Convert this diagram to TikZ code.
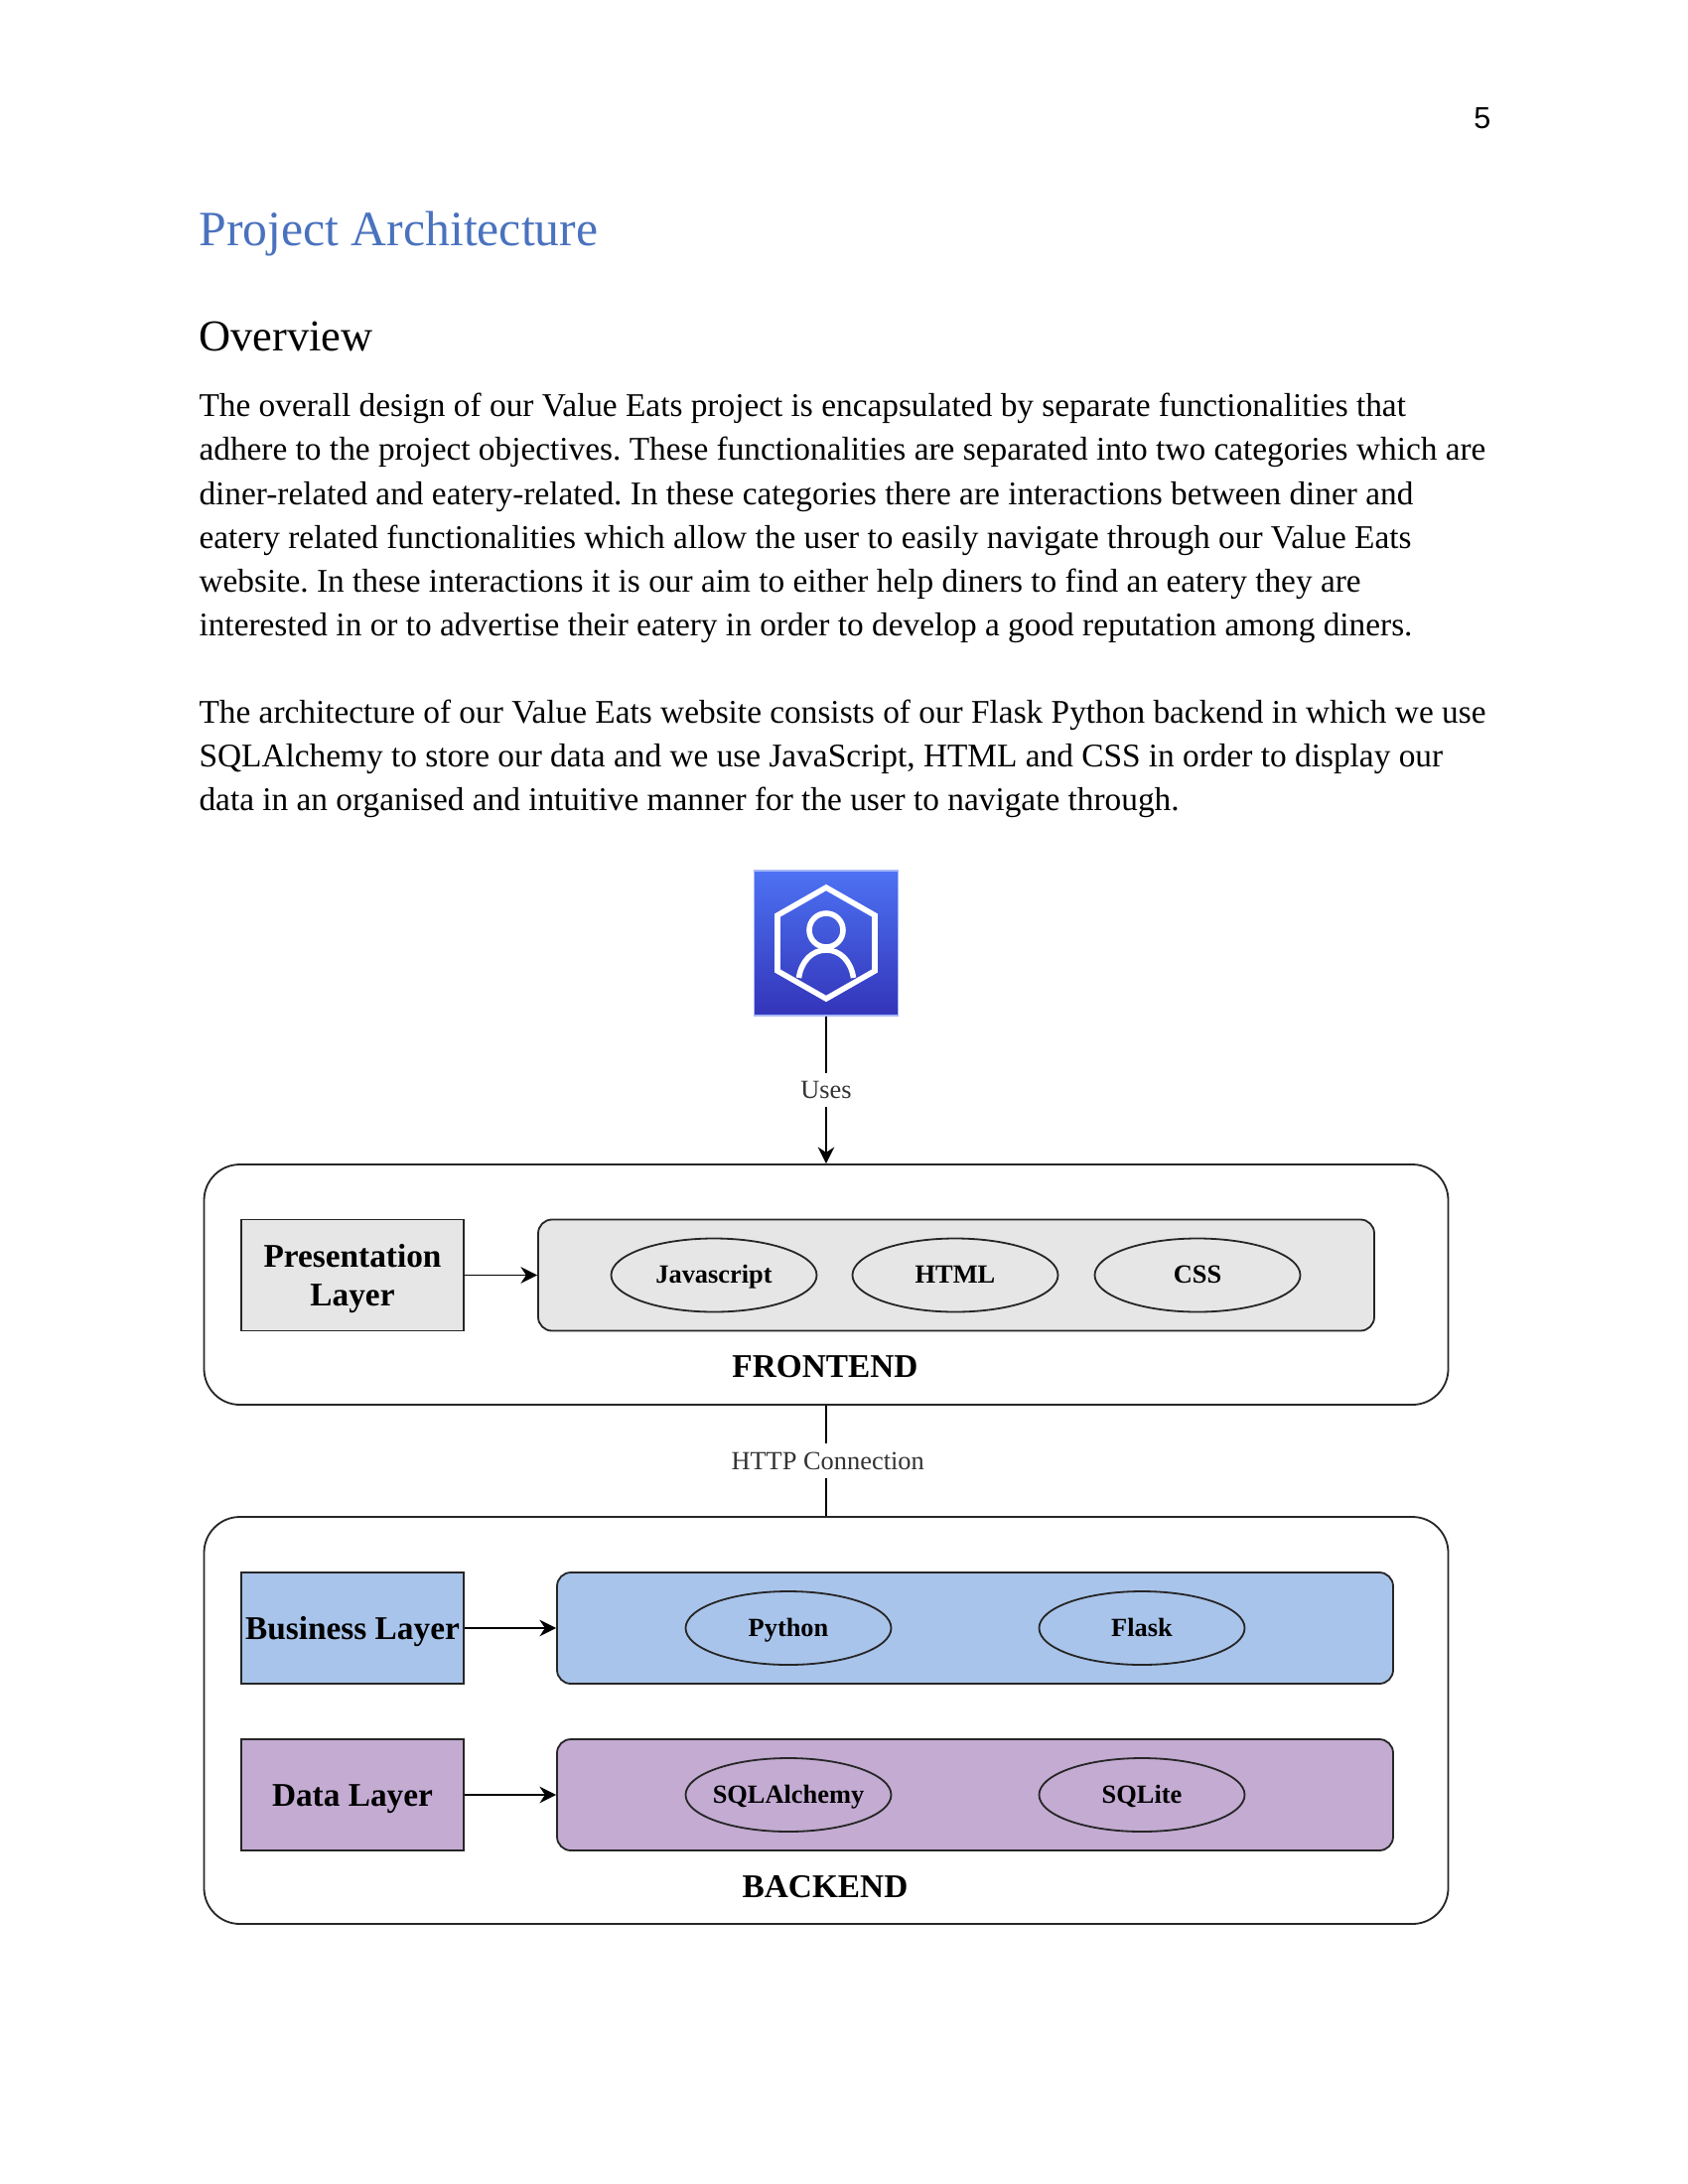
\documentclass[tikz,border=0pt]{standalone}
\usepackage{fontspec}
\setmainfont{Liberation Serif}
\newfontfamily\pagefont{Liberation Sans}
\usetikzlibrary{arrows.meta,shapes.geometric}
\definecolor{titleblue}{HTML}{4A72BE}
\definecolor{greyfill}{HTML}{E6E6E6}
\definecolor{bluefill}{HTML}{A9C4EB}
\definecolor{purplefill}{HTML}{C3ABD2}
\definecolor{icontop}{HTML}{4D72F3}
\definecolor{iconbot}{HTML}{3334B9}
\tikzset{
  x=0.36pt,y=-0.36pt,
  bodyline/.style={anchor=base west,inner sep=0pt,font=\frenchspacing\fontsize{12}{14}\selectfont},
  sized/.style 2 args={minimum width=#1*0.36pt,minimum height=#2*0.36pt,inner sep=0pt},
  outerbox/.style 2 args={draw=black!85,line width=0.65pt,rounded corners=13pt,sized={#1}{#2}},
  layerbox/.style={draw=black!85,line width=0.65pt,sized={224}{112},align=center,font=\fontsize{12}{14.1}\selectfont\bfseries},
  onelayer/.style={layerbox,text height=8pt,text depth=0pt},
  techbox/.style={draw=black!85,line width=0.65pt,rounded corners=5pt,sized={#1}{112}},
  tech/.style={draw=black!85,line width=0.65pt,ellipse,sized={207}{74},text height=6pt,text depth=0pt,font=\fontsize{9.5}{11}\selectfont\bfseries},
  link/.style={draw=black,line width=0.7pt},
  flow/.style={link,-{Stealth[length=6pt,width=6pt]}},
  conlabel/.style={fill=white,inner xsep=1.5pt,inner ysep=3pt,font=\fontsize{9.5}{11}\selectfont,text=black!80},
  grouplabel/.style={inner sep=0pt,font=\fontsize{12}{14}\selectfont\bfseries},
  iconline/.style={draw=white,line width=2pt,line join=miter}
}
\begin{document}
\begin{tikzpicture}
\useasboundingbox (0,0) rectangle (1700,2200);
\fill[white] (0,0) rectangle (1700,2200);
\node[anchor=base east,inner sep=0pt,font=\pagefont\fontsize{11}{13}\selectfont] (pagenum) at (1502,129.5) {5};
\node[anchor=base west,inner sep=0pt,text=titleblue,font=\fontsize{17.9}{22}\selectfont] (title) at (200,248) {Project Architecture};
\node[anchor=base west,inner sep=0pt,font=\fontsize{16}{20}\selectfont] (overview) at (200,353.5) {Overview};
\node[bodyline] (p1) at (200,419.5) {The overall design of our Value Eats project is encapsulated by separate functionalities that};
\node[bodyline] (p2) at (200,463.8) {adhere to the project objectives. These functionalities are separated into two categories which are};
\node[bodyline] (p3) at (200,508) {diner-related and eatery-related. In these categories there are interactions between diner and};
\node[bodyline] (p4) at (200,552.3) {eatery related functionalities which allow the user to easily navigate through our Value Eats};
\node[bodyline] (p5) at (200,596.6) {website. In these interactions it is our aim to either help diners to find an eatery they are};
\node[bodyline] (p6) at (200,640.8) {interested in or to advertise their eatery in order to develop a good reputation among diners.};
\node[bodyline] (q1) at (200,728) {The architecture of our Value Eats website consists of our Flask Python backend in which we use};
\node[bodyline] (q2) at (200,772) {SQLAlchemy to store our data and we use JavaScript, HTML and CSS in order to display our};
\node[bodyline] (q3) at (200,816.3) {data in an organised and intuitive manner for the user to navigate through.};
% icon
\node[sized={145}{146},top color=icontop,bottom color=iconbot,draw=icontop!50!white,line width=0.4pt] (icon) at (832,950) {};
\draw[iconline] (832,894) -- (881,922) -- (881,978) -- (832,1006) -- (783,978) -- (783,922) -- cycle;
\draw[iconline] (832,937) circle (17);
\draw[iconline] (804.5,985) .. controls (807,968) and (818,957) .. (832,957) .. controls (846,957) and (857,968) .. (859.5,985);
% frontend
\node[outerbox={1253}{242}] (frontend) at (832,1294) {};
\node[layerbox,fill=greyfill] (preslayer) at (355,1284.5) {\rule{0pt}{11pt}Presentation\\Layer};
\node[techbox={842},fill=greyfill] (prestech) at (963,1284.5) {};
\node[tech] (js) at (719,1284.5) {Javascript};
\node[tech] (html) at (962,1284.5) {HTML};
\node[tech] (css) at (1206,1284.5) {CSS};
\node[grouplabel] (frontlabel) at (831,1377) {FRONTEND};
% backend
\node[outerbox={1253}{410}] (backend) at (832,1733) {};
\node[onelayer,fill=bluefill] (buslayer) at (355,1640) {Business Layer};
\node[techbox={842},fill=bluefill] (bustech) at (982,1640) {};
\node[tech] (python) at (794,1640) {Python};
\node[tech] (flask) at (1150,1640) {Flask};
\node[onelayer,fill=purplefill] (datalayer) at (355,1808) {Data Layer};
\node[techbox={842},fill=purplefill] (datatech) at (982,1808) {};
\node[tech] (sqlalchemy) at (794,1808) {\makebox[0pt]{SQLAlchemy}};
\node[tech] (sqlite) at (1150,1808) {SQLite};
\node[grouplabel] (backlabel) at (831,1901) {BACKEND};
% connectors
\draw[flow] (icon.south) -- node[conlabel] {Uses} (icon.south |- frontend.north);
\draw[link] (frontend.south) -- node[conlabel,xshift=0.6pt] {HTTP Connection} (backend.north);
\draw[flow] (preslayer) -- (prestech);
\draw[flow] (buslayer) -- (bustech);
\draw[flow] (datalayer) -- (datatech);
\end{tikzpicture}
\end{document}
